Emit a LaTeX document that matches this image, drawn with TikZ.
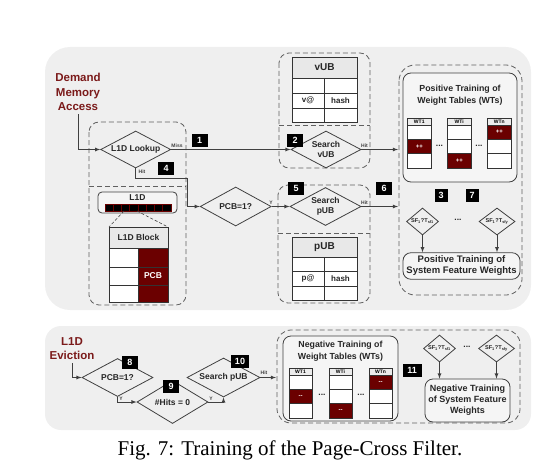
\documentclass[tikz,border=0pt]{standalone}
\usepackage{fontspec}
\setmainfont{Liberation Sans}
\newfontfamily\capfont{Liberation Serif}
\usetikzlibrary{shapes.geometric,positioning}
\definecolor{panelgray}{HTML}{EFEFEF}
\definecolor{cellred}{HTML}{6B0000}
\definecolor{labelred}{HTML}{7B1A1A}
\definecolor{linegray}{HTML}{404040}

\begin{document}
\begin{tikzpicture}[x=1pt,y=-1pt,
    every node/.style={font=\bfseries\fontsize{8.5}{10}\selectfont,text=black!85},
    dec/.style={draw=linegray,line width=0.8pt,diamond,aspect=2,inner sep=0pt,align=center},
    sfdec/.style={dec,aspect=1.2,minimum width=32pt,minimum height=27pt,font=\bfseries\fontsize{5.6}{6}\selectfont},
    tag/.style={fill=black,text=white,font=\bfseries\fontsize{9}{10}\selectfont,minimum width=16pt,minimum height=13pt,inner sep=0pt},
    tiny/.style={font=\bfseries\fontsize{5}{6}\selectfont,text=linegray,inner sep=0.5pt},
    flow/.style={draw=linegray,line width=0.8pt,-latex},
    group/.style={draw=gray!75!black,line width=0.8pt,dash pattern=on 5pt off 3pt,rounded corners=10pt},
    card/.style={draw=linegray,line width=0.8pt,rounded corners=8pt,fill=white!96!black},
    grid/.style={draw=black!80,line width=0.7pt},
    note/.style={font=\bfseries\fontsize{11.5}{14.5}\selectfont,text=labelred,align=center}]
  \useasboundingbox (0,0) rectangle (556,468);

  % panels
  \fill[panelgray,rounded corners=25pt] (45,47) rectangle (531,310);
  \fill[panelgray,rounded corners=16pt] (45,326) rectangle (531,430);

  % dashed groups
  \draw[group] (89,122) rectangle (186,305);
  \draw[group] (89,186) -- (186,186);
  \draw[group] (279,53) rectangle (370,168);
  \draw[group] (279,125) -- (370,125);
  \draw[group] (278,185) rectangle (370,303);
  \draw[group] (278,233) -- (370,233);
  \draw[group,rounded corners=16pt] (399,65) rectangle (522,295);
  \draw[group,rounded corners=14pt] (277,330) rectangle (520,423);

  % demand access
  \node[note] (demand) at (78,92) {Demand\\Memory\\Access};
  \node[dec,minimum width=70pt,minimum height=37pt] (lookup) at (135.7,149.5) {L1D Lookup};
  \node[dec,minimum width=70pt,minimum height=37pt] (vsearch) at (326,149.5) {Search\\vUB};
  \node[dec,minimum width=71pt,minimum height=39pt] (pcb) at (235.7,206.5) {PCB=1?};
  \node[dec,minimum width=71pt,minimum height=38pt] (psearch) at (325.5,206.5) {Search\\pUB};
  \coordinate (hitturn) at (187,178);
  \coordinate (posin1) at (398,149.5);
  \coordinate (posin2) at (398,206.5);

  \draw[flow] (demand.south) |- (lookup.west);
  \draw[flow] (lookup.east) -- (vsearch.west);
  \draw[flow] (lookup.south) |- (hitturn) |- (pcb.west);
  \draw[flow] (pcb.east) -- (psearch.west);
  \draw[flow] (vsearch.east) -- (posin1);
  \draw[flow] (psearch.east) -- (posin2);

  \node[tiny] (miss) at (177,145.5) {Miss};
  \node[tiny] (hit1) at (142,172) {Hit};
  \node[tiny] (yes1) at (271,202.5) {Y};
  \node[tiny] (hit2) at (364.5,145.5) {Hit};
  \node[tiny] (hit3) at (364.5,202.5) {Hit};

  \node[tag] (t1) at (199.5,140.5) {1};
  \node[tag] (t4) at (166,168.5) {4};
  \node[tag] (t2) at (295,140) {2};
  \node[tag] (t5) at (296,188) {5};
  \node[tag] (t6) at (384,188) {6};
  \node[tag,minimum width=13pt] (t3) at (441,195) {3};
  \node[tag,minimum width=13pt] (t7) at (472,195) {7};

  % L1D and its block
  \draw[card,rounded corners=4pt] (98,192) rectangle (177,213);
  \node (l1d) at (137.5,198) {L1D};
  \foreach \i in {0,...,7}
    \draw[fill=black,draw=cellred,line width=0.6pt] ({105+8.25*\i},204) rectangle ++(8.25,7);
  \draw[linegray,densely dashed,line width=0.6pt] (124,211) -- (109,227) (137,211) -- (168,227);
  \draw[grid,fill=gray!18] (109,227) rectangle (168,248);
  \node (blockhead) at (138.5,237.5) {L1D Block};
  \draw[grid,fill=white] (109,248) rectangle (138,302);
  \draw[grid,fill=cellred] (138,248) rectangle (168,302);
  \draw[grid] (109,267) -- (168,267) (109,285) -- (168,285);
  \node[text=white] (pcbbit) at (153,276) {PCB};

  % vUB and pUB
  \draw[grid,fill=gray!18] (292,57) rectangle (357,78);
  \node[font=\bfseries\fontsize{10}{12}\selectfont] (vub) at (324.5,67.5) {vUB};
  \draw[grid,fill=white] (292,78) rectangle (357,122);
  \draw[grid] (292,93) -- (357,93) (292,108) -- (357,108) (324,78) -- (324,122);
  \node[font=\bfseries\fontsize{8}{9}\selectfont] (vaddr) at (308,100.5) {v@};
  \node[font=\bfseries\fontsize{8}{9}\selectfont] (vhash) at (340.5,100.5) {hash};
  \draw[grid,fill=gray!18] (292,237) rectangle (357,257);
  \node[font=\bfseries\fontsize{10}{12}\selectfont] (pub) at (324.5,247) {pUB};
  \draw[grid,fill=white] (292,257) rectangle (357,300);
  \draw[grid] (292,271.5) -- (357,271.5) (292,286) -- (357,286) (324,257) -- (324,300);
  \node[font=\bfseries\fontsize{8}{9}\selectfont] (paddr) at (308,278.5) {p@};
  \node[font=\bfseries\fontsize{8}{9}\selectfont] (phash) at (340.5,278.5) {hash};

  % positive training
  \node[card,minimum width=114pt,minimum height=109pt] (poswt) at (460,127.5) {};
  \node[align=center,font=\bfseries\fontsize{8.8}{12}\selectfont] (postitle) at (460,95) {Positive Training of\\Weight Tables (WTs)};
  \foreach \tx/\tr/\tn in {407/2/WT1,447/3/WTi,487/1/WTn} {
    \draw[grid,fill=gray!15] (\tx,118) rectangle ++(24.5,7);
    \node[tiny,text=black] at (\tx+12.25,121.5) {\tn};
    \draw[grid,fill=white] (\tx,125) rectangle ++(24.5,43);
    \draw[grid] (\tx,139.3) -- ++(24.5,0) (\tx,153.7) -- ++(24.5,0);
    \draw[grid,fill=cellred] (\tx,{125+(\tr-1)*14.33}) rectangle ++(24.5,14.33);
    \node[text=white,font=\bfseries\fontsize{6}{7}\selectfont] at (\tx+12.25,{132.2+(\tr-1)*14.33}) {++};
  }
  \node (dotsa) at (439.5,146) {...};
  \node (dotsb) at (479,146) {...};
  \node[sfdec] (sfa) at (422.5,221.5) {SF\textsubscript{1}?T\textsubscript{sf1}};
  \node[sfdec,minimum width=36pt] (sfb) at (497,221.5) {SF\textsubscript{1}?T\textsubscript{sfy}};
  \node (dotsc) at (458,220) {...};
  \node[card,minimum width=117pt,minimum height=26pt,align=center,font=\bfseries\fontsize{9.5}{11}\selectfont] (sfpos) at (461.5,266) {Positive Training of\\System Feature Weights};
  \draw[flow] (sfa.south) -- (sfa.south |- sfpos.north);
  \draw[flow] (sfb.south) -- (sfb.south |- sfpos.north);

  % eviction
  \node[note] (evict) at (72,348.5) {L1D\\Eviction};
  \node[dec,minimum width=71pt,minimum height=38pt] (pcbb) at (117.5,377.5) {PCB=1?};
  \node[dec,minimum width=71pt,minimum height=43pt] (hits) at (172.5,402) {\#Hits = 0};
  \node[dec,minimum width=73pt,minimum height=39pt] (psearchb) at (223.5,377.5) {Search pUB};
  \coordinate (negin) at (276,377.5);
  \draw[flow] (evict.south) |- (pcbb.west);
  \draw[flow] (pcbb.south) |- (hits.west);
  \draw[flow] (hits.east) -| (psearchb.south);
  \draw[flow] (psearchb.east) -- (negin);
  \node[tiny] (yes2) at (121,399) {Y};
  \node[tiny] (yes3) at (211,399) {Y};
  \node[tiny] (hit4) at (264,373) {Hit};
  \node[tag] (t8) at (130,362) {8};
  \node[tag] (t9) at (171,386.5) {9};
  \node[tag,minimum width=18pt] (t10) at (240,361) {10};
  \node[tag,minimum width=19pt] (t11) at (412,370) {11};

  % negative training
  \node[card,minimum width=115pt,minimum height=85pt] (negwt) at (340.5,378.5) {};
  \node[align=center,font=\bfseries\fontsize{8.8}{12}\selectfont] (negtitle) at (340.5,351) {Negative Training of\\Weight Tables (WTs)};
  \foreach \tx/\tr/\tn in {289/2/WT1,329/3/WTi,369/1/WTn} {
    \draw[grid,fill=gray!15] (\tx,368) rectangle ++(23,7);
    \node[tiny,text=black] at (\tx+11.5,371.5) {\tn};
    \draw[grid,fill=white] (\tx,375) rectangle ++(23,43);
    \draw[grid] (\tx,389.3) -- ++(23,0) (\tx,403.7) -- ++(23,0);
    \draw[grid,fill=cellred] (\tx,{375+(\tr-1)*14.33}) rectangle ++(23,14.33);
    \node[text=white,font=\bfseries\fontsize{6}{7}\selectfont] at (\tx+11.5,{382.2+(\tr-1)*14.33}) {-{}-};
  }
  \node (dotsd) at (322,395) {...};
  \node (dotse) at (361,395) {...};
  \node[sfdec] (sfc) at (439.5,348.5) {SF\textsubscript{1}?T\textsubscript{sf1}};
  \node[sfdec,minimum width=36pt] (sfd) at (496.5,348.5) {SF\textsubscript{1}?T\textsubscript{sfy}};
  \node (dotsf) at (467,347) {...};
  \node[card,minimum width=85pt,minimum height=43pt,align=center,font=\bfseries\fontsize{9}{11}\selectfont] (sfneg) at (467.5,400.5) {Negative Training\\of System Feature\\Weights};
  \draw[flow] (sfc.south) -- (sfc.south |- sfneg.north);
  \draw[flow] (sfd.south) -- (sfd.south |- sfneg.north);

  % caption
  \node[font=\capfont\fontsize{21}{25}\selectfont,text=black,anchor=base] (caption) at (290,455) {Fig. 7: Training of the Page-Cross Filter.};
\end{tikzpicture}
\end{document}
